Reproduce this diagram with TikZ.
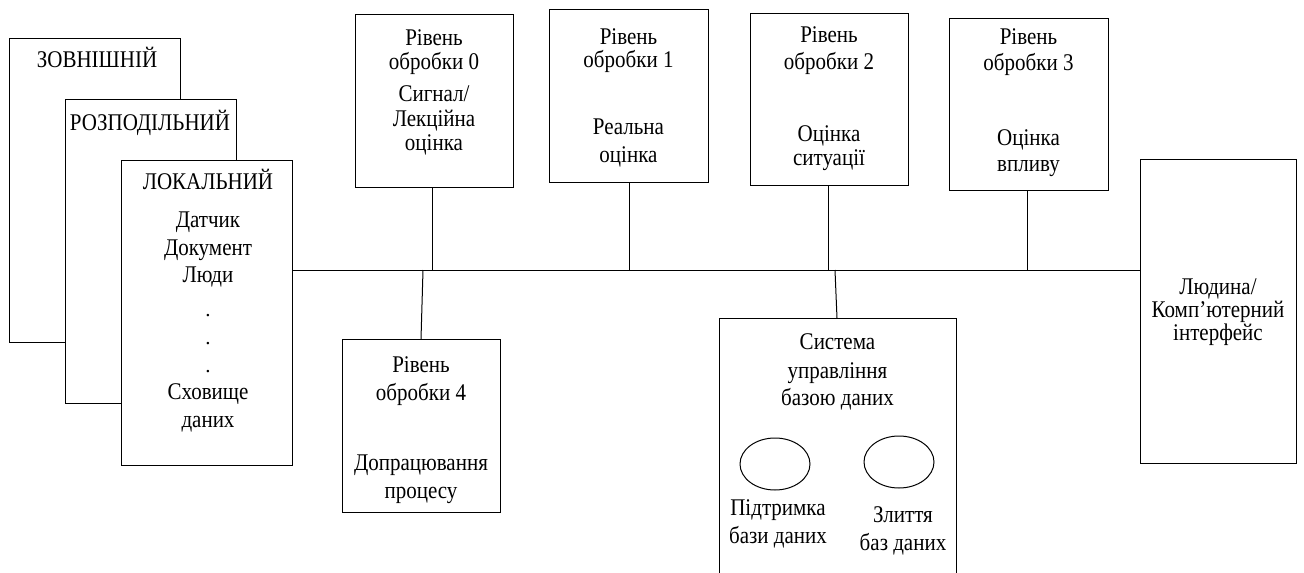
\documentclass[tikz,border=0pt]{standalone}
\usepackage{graphicx}
\usepackage{fontspec}
\setmainfont{Liberation Serif}
\usetikzlibrary{shapes.geometric}
% text drawn slightly taller than its width
\newcommand{\tallt}[1]{\scalebox{1}[1.14]{#1}}
\begin{document}
\begin{tikzpicture}[x=1pt,y=-1pt,
  box/.style={draw, fill=white, line width=1pt, inner sep=0, outer sep=0},
  lbl/.style={inner sep=0, font=\fontsize{21}{24}\selectfont, text height=0.72em, text depth=0.2em},
  wire/.style={line width=1pt},
  oval/.style={draw, ellipse, line width=1pt, minimum width=70pt, minimum height=52pt, inner sep=0}]
\useasboundingbox (0,0) rectangle (1304,573);
\clip (0,0) rectangle (1304,573);
% layered source boxes
\node[box, minimum width=171pt, minimum height=304pt] (ext) at (94.5,190) {};
\node[lbl] (extT) at (97,65) {\tallt{ЗОВНІШНІЙ}};
\node[box, minimum width=171pt, minimum height=304pt] (dist) at (150.5,251) {};
\node[lbl] (distT) at (150,128) {\tallt{РОЗПОДІЛЬНИЙ}};
\node[box, minimum width=171pt, minimum height=305pt] (loc) at (206.5,312.5) {};
\node[lbl] (locT) at (208,187) {\tallt{ЛОКАЛЬНИЙ}};
\node[lbl] (l1) at (208,225) {\tallt{Датчик}};
\node[lbl] (l2) at (208,253) {\tallt{Документ}};
\node[lbl] (l3) at (208,280) {\tallt{Люди}};
\node[lbl] (d1) at (208,314) {.};
\node[lbl] (d2) at (208,342) {.};
\node[lbl] (d3) at (208,370) {.};
\node[lbl] (l4) at (208,397) {\tallt{Сховище}};
\node[lbl] (l5) at (208,425) {\tallt{даних}};
% processing levels
\node[box, minimum width=158pt, minimum height=173pt] (b0) at (434,100.5) {};
\node[lbl] at (434,43) {\tallt{Рівень}};
\node[lbl] at (434,67) {\tallt{обробки 0}};
\node[lbl] at (434,99) {\tallt{Сигнал/}};
\node[lbl] at (434,124) {\tallt{Лекційна}};
\node[lbl] at (434,148) {\tallt{оцінка}};
\node[box, minimum width=159pt, minimum height=173pt] (b1) at (628.5,95.5) {};
\node[lbl] at (628.5,42) {\tallt{Рівень}};
\node[lbl] at (628.5,65) {\tallt{обробки 1}};
\node[lbl] at (628.5,132) {\tallt{Реальна}};
\node[lbl] at (628.5,160) {\tallt{оцінка}};
\node[box, minimum width=158pt, minimum height=172pt] (b2) at (829,99) {};
\node[lbl] at (829,40) {\tallt{Рівень}};
\node[lbl] at (829,67) {\tallt{обробки 2}};
\node[lbl] at (829,139) {\tallt{Оцінка}};
\node[lbl] at (829,163) {\tallt{ситуації}};
\node[box, minimum width=159pt, minimum height=172pt] (b3) at (1028.5,104) {};
\node[lbl] at (1028.5,42) {\tallt{Рівень}};
\node[lbl] at (1028.5,68) {\tallt{обробки 3}};
\node[lbl] at (1028.5,143) {\tallt{Оцінка}};
\node[lbl] at (1028.5,169) {\tallt{впливу}};
\node[box, minimum width=158pt, minimum height=173pt] (b4) at (421,425.5) {};
\node[lbl] at (421,370) {\tallt{Рівень}};
\node[lbl] at (421,398) {\tallt{обробки 4}};
\node[lbl] at (421,468) {\tallt{Допрацювання}};
\node[lbl] at (421,496) {\tallt{процесу}};
% database management system
\node[box, minimum width=237pt, minimum height=300pt] (db) at (837.5,468) {};
\node[lbl] at (837.5,347) {\tallt{Система}};
\node[lbl] at (837.5,376) {\tallt{управління}};
\node[lbl] at (837.5,403) {\tallt{базою даних}};
\node[oval] (e1) at (775,464) {};
\node[oval] (e2) at (899,462) {};
\node[lbl] at (778,513) {\tallt{Підтримка}};
\node[lbl] at (778,541) {\tallt{бази даних}};
\node[lbl] at (903,520) {\tallt{Злиття}};
\node[lbl] at (903,548) {\tallt{баз даних}};
% human interface
\node[box, minimum width=156pt, minimum height=304pt] (hci) at (1218,311) {};
\node[lbl] at (1218,292) {\tallt{Людина/}};
\node[lbl] at (1218,315) {\tallt{Комп’ютерний}};
\node[lbl] at (1218,338) {\tallt{інтерфейс}};
% bus and taps
\coordinate (j0) at (432,270);
\coordinate (j1) at (629,270);
\coordinate (j2) at (828,270);
\coordinate (j3) at (1027,270);
\coordinate (j4) at (423,270);
\coordinate (j5) at (835,270);
\draw[wire] (loc.east |- j0) -- (hci.west |- j0);
\draw[wire] (b0.south -| j0) -- (j0);
\draw[wire] (b1.south -| j1) -- (j1);
\draw[wire] (b2.south -| j2) -- (j2);
\draw[wire] (b3.south -| j3) -- (j3);
\draw[wire] (j4) -- ([xshift=-2pt]b4.north -| j4);
\draw[wire] (j5) -- ([xshift=2pt]db.north -| j5);
\end{tikzpicture}
\end{document}
